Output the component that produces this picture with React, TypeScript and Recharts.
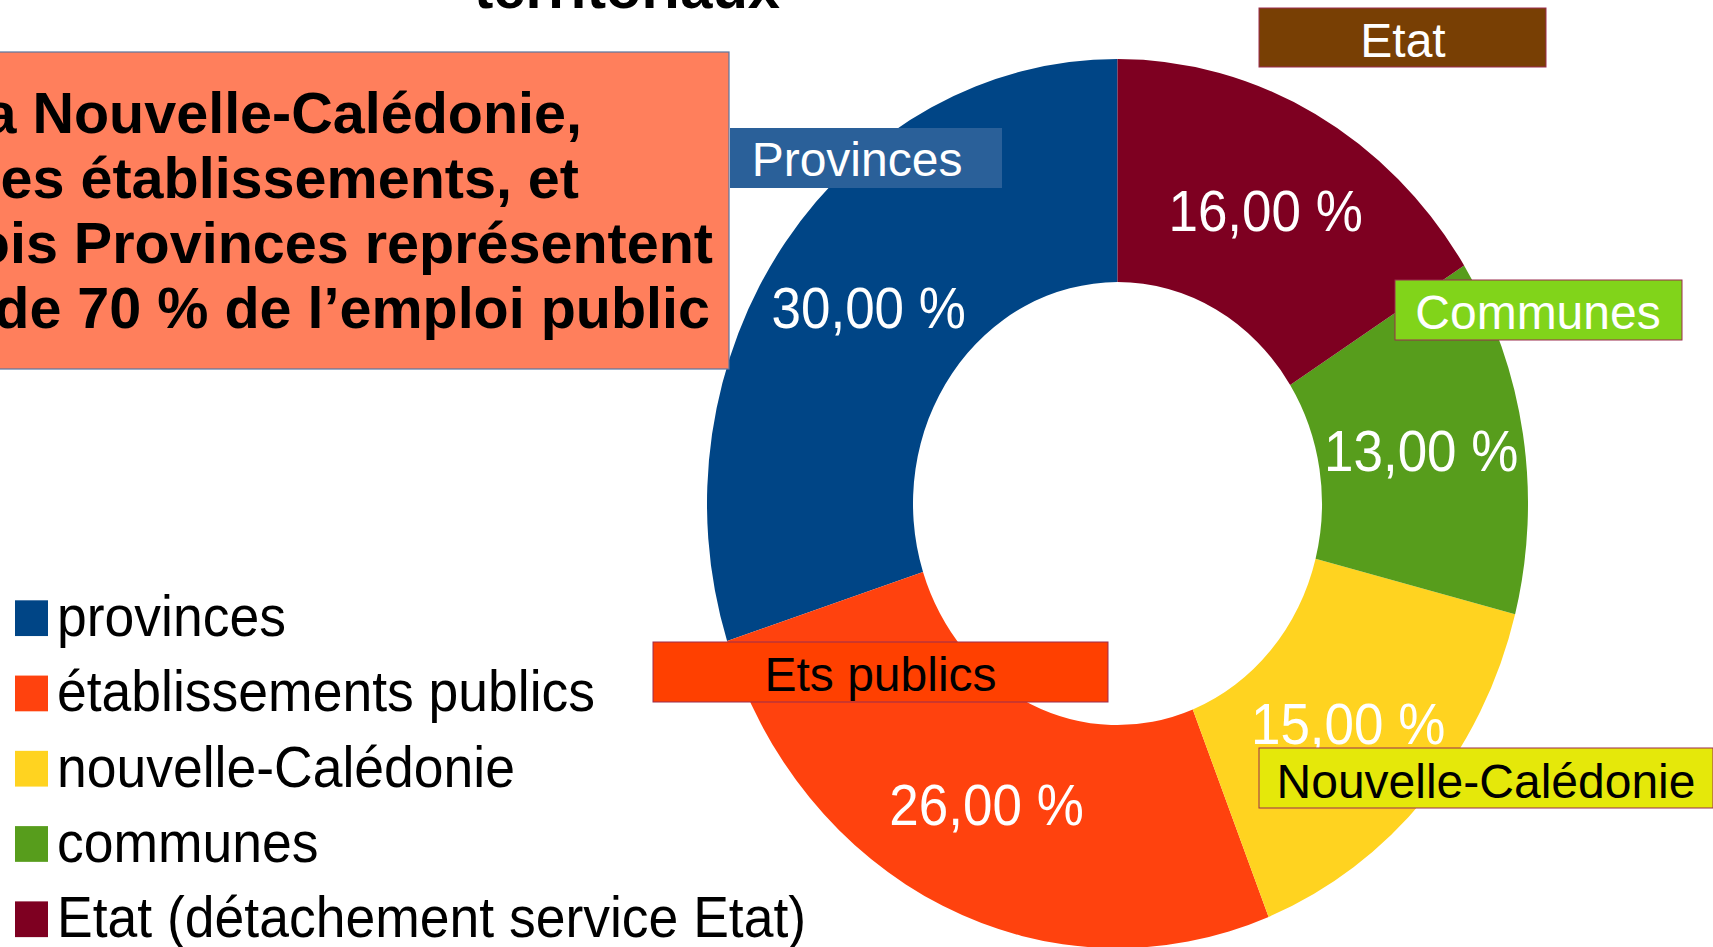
import React from 'react';
import { PieChart, Pie, Cell } from 'recharts';

// ---- data ----
const categories = [
  'provinces',
  'établissements publics',
  'nouvelle-Calédonie',
  'communes',
  'Etat (détachement service Etat)',
];
const shares = [30, 26, 15, 13, 16];
const sliceColors = ['#004586', '#ff420e', '#ffd320', '#579d1c', '#7e0021'];

const calloutLabels = ['Provinces', 'Ets publics', 'Nouvelle-Calédonie', 'Communes', 'Etat'];
const calloutFills = ['#2a6099', '#ff4000', '#e5e80a', '#81d41a', '#783f04'];
const calloutTextColors = ['#ffffff', '#000000', '#000000', '#ffffff', '#ffffff'];

const headlineLines = [
  'La Nouvelle-Calédonie,',
  'ses établissements, et',
  'les trois Provinces représentent',
  'plus de 70 % de l’emploi public',
];
const titleTail = 'territoriaux';

// ---- layout ----
const W = 1713;
const H = 947;
const K = 1.083; // vertical stretch of the chart picture
const FONT = '"Liberation Sans", Arial, sans-serif';

// right edges of the headline lines
const headlineRight = [582, 579, 713, 710];

// callout boxes: [x, y, w, h, textCenterX, baseline]
const calloutBoxes = [
  [730, 128, 272, 60, 857, 176],
  [653, 642, 455, 60, 880.5, 691],
  [1259, 748, 454, 60, 1486, 798],
  [1395, 280, 287, 60, 1538, 328.5],
  [1259, 8, 287, 59, 1403, 56.5],
];

const pieData = categories.map((name, i) => ({ name, value: shares[i] }));

const RAD = Math.PI / 180;
const renderLabel = (props: any) => {
  const { cx, cy, midAngle, innerRadius, outerRadius, value } = props;
  const r = (innerRadius + outerRadius) / 2;
  const x = cx + r * Math.cos(-midAngle * RAD);
  const y = cy + r * Math.sin(-midAngle * RAD);
  return (
    <text
      x={x}
      y={y}
      fill="#ffffff"
      fontSize={53}
      fontFamily={FONT}
      textAnchor="middle"
      dominantBaseline="central"
    >
      {`${Number(value).toFixed(2).replace('.', ',')} %`}
    </text>
  );
};

export default function App() {
  const chartH = 875;
  return (
    <div
      style={{
        position: 'absolute',
        left: 0,
        top: 0,
        width: W,
        height: H,
        overflow: 'hidden',
        background: '#ffffff',
        fontFamily: FONT,
      }}
    >
      <div
        style={{
          position: 'absolute',
          left: 0,
          top: 0,
          width: W,
          height: chartH,
          transform: `scaleY(${K})`,
          transformOrigin: '0 0',
        }}
      >
        <PieChart width={W} height={chartH} margin={{ top: 0, right: 0, bottom: 0, left: 0 }}>
          <Pie
            data={pieData}
            dataKey="value"
            nameKey="name"
            cx={1117.5}
            cy={465}
            innerRadius={204.5}
            outerRadius={410.5}
            startAngle={90}
            endAngle={450}
            stroke="none"
            labelLine={false}
            label={renderLabel}
            isAnimationActive={false}
          >
            {pieData.map((d, i) => (
              <Cell key={d.name} fill={sliceColors[i]} />
            ))}
          </Pie>
        </PieChart>
        <svg
          width={W}
          height={chartH}
          style={{ position: 'absolute', left: 0, top: 0, pointerEvents: 'none' }}
        >
          {categories.map((c, i) => {
            const base = 587.3 + 69.5 * i;
            return (
              <g key={c}>
                <rect x={15} y={base - 33} width={33} height={33} fill={sliceColors[i]} />
                <text x={57} y={base} fontSize={53.5} fontFamily={FONT} fill="#000000">
                  {c}
                </text>
              </g>
            );
          })}
        </svg>
      </div>

      <svg width={W} height={H} style={{ position: 'absolute', left: 0, top: 0 }}>
        <text
          x={627}
          y={8}
          fontSize={58}
          fontWeight="bold"
          fontFamily={FONT}
          textAnchor="middle"
          fill="#000000"
        >
          {titleTail}
        </text>

        <rect x={-173} y={52} width={902} height={317} fill="#ff7f5c" stroke="#5a76a0" strokeWidth={1.2} />
        {headlineLines.map((line, i) => (
          <text
            key={line}
            x={headlineRight[i]}
            y={133 + 65 * i}
            fontSize={57.5}
            fontWeight="bold"
            fontFamily={FONT}
            textAnchor="end"
            fill="#000000"
          >
            {line}
          </text>
        ))}

        {calloutLabels.map((lab, i) => {
          const [x, y, w, h, tx, tb] = calloutBoxes[i];
          return (
            <g key={lab}>
              <rect
                x={x}
                y={y}
                width={w}
                height={h}
                fill={calloutFills[i]}
                stroke={i === 0 ? 'none' : '#9b2d4f'}
                strokeWidth={1}
              />
              <text
                x={tx}
                y={tb}
                fontSize={48}
                fontFamily={FONT}
                textAnchor="middle"
                fill={calloutTextColors[i]}
              >
                {lab}
              </text>
            </g>
          );
        })}
      </svg>
    </div>
  );
}
